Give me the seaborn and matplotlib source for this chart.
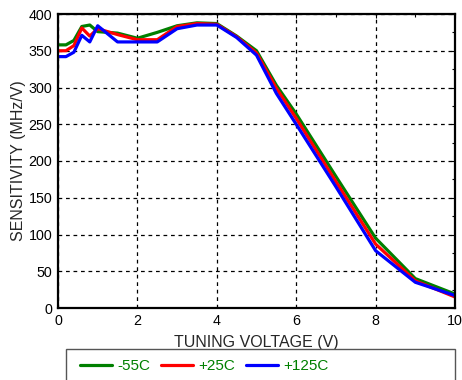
import pandas as pd
import matplotlib.pyplot as plt
import seaborn as sns
from matplotlib.patches import Rectangle
from matplotlib.ticker import MultipleLocator

# values
volts = [0, 0.2, 0.4, 0.6, 0.8, 1.0, 1.5, 2.0, 2.5, 3.0, 3.5, 4.0, 4.5, 5.0, 5.5, 6.0, 7.0, 8.0, 9.0, 10.0]
sens_m55 = [358, 358, 364, 383, 385, 376, 374, 367, 375, 384, 388, 387, 370, 350, 303, 264, 179, 95, 40, 19]
sens_p25 = [350, 350, 357, 381, 370, 380, 372, 365, 365, 383, 387, 386, 369, 347, 299, 258, 172, 87, 37, 15]
sens_p125 = [342, 342, 348, 371, 362, 384, 362, 362, 362, 380, 385, 385, 368, 344, 292, 250, 165, 78, 35, 17]
labels = ["-55C", "+25C", "+125C"]
colors = ["#008000", "#ff0000", "#0000ff"]

rows = []
for lab, vals in zip(labels, [sens_m55, sens_p25, sens_p125]):
    for v, s in zip(volts, vals):
        rows.append({"volt": v, "sens": s, "temp": lab})
df = pd.DataFrame(rows)

sns.set_style("white")
plt.rcParams['font.family'] = ['Liberation Sans', 'DejaVu Sans']

fig = plt.figure(figsize=(4.62, 3.8), dpi=100)
ax = fig.add_axes([58 / 462, 1 - 308 / 380, (455 - 58) / 462, (308 - 14) / 380])

sns.lineplot(data=df, x="volt", y="sens", hue="temp", hue_order=labels,
             palette=colors, linewidth=2.3, ax=ax, legend=False)

ax.set_xlim(0, 10)
ax.set_ylim(0, 400)
ax.xaxis.set_major_locator(MultipleLocator(2))
ax.xaxis.set_minor_locator(MultipleLocator(1))
ax.yaxis.set_major_locator(MultipleLocator(50))
ax.yaxis.set_minor_locator(MultipleLocator(25))
ax.tick_params(which="both", direction="in", labelsize=10.3, colors="black",
               top=True, right=True, length=3, width=0.8, pad=4)
ax.tick_params(which="minor", length=2)
ax.grid(True, which="major", color="black", linestyle=(0, (3, 3)), linewidth=0.9)
for sp in ax.spines.values():
    sp.set_linewidth(1.6)
    sp.set_color("black")

ax.set_xlabel("TUNING VOLTAGE (V)", fontsize=11.5, labelpad=5)
ax.set_ylabel("SENSITIVITY (MHz/V)", fontsize=11.5, labelpad=2)

# legend box, bottom runs off the figure like the reference
fig.patches.append(Rectangle((66 / 462, -0.05), (455 - 66) / 462, 0.05 + 1 - 349 / 380,
                             transform=fig.transFigure, fill=False,
                             edgecolor="#555555", linewidth=1.0))
handles = [plt.Line2D([], [], color=c, linewidth=2.3) for c in colors]
leg = fig.legend(handles, labels, loc="center left",
                 bbox_to_anchor=(80 / 462, 1 - 366 / 380), ncol=3, frameon=False,
                 fontsize=11, handlelength=2.1, handletextpad=0.35,
                 columnspacing=0.7, borderpad=0, borderaxespad=0)
for t in leg.get_texts():
    t.set_color("#008000")

plt.savefig("out.png", dpi=100)
